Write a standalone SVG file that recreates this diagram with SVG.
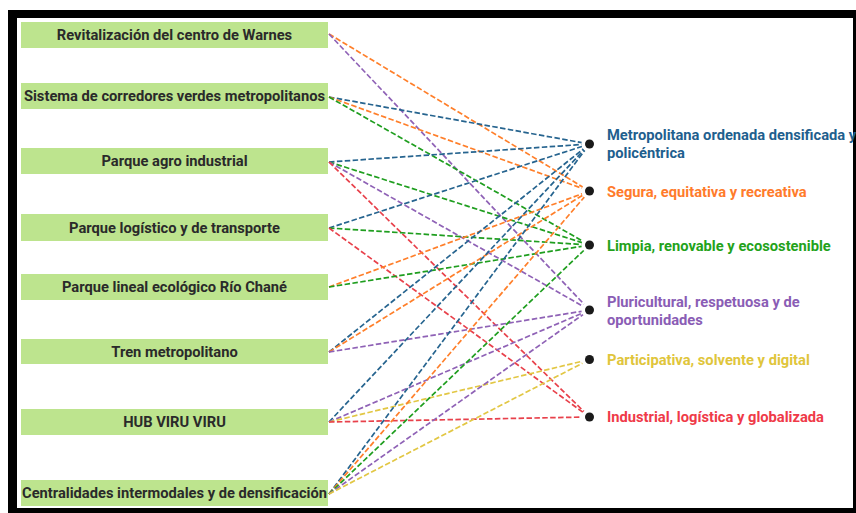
<svg xmlns="http://www.w3.org/2000/svg" width="856" height="513" viewBox="0 0 856 513">
<style>
.box{fill:#bde48e}
.lt{font-family:Roboto,"Liberation Sans",sans-serif;font-weight:bold;font-size:14.7px;fill:#2a2a2a;text-anchor:middle}
.rt{font-family:Roboto,"Liberation Sans",sans-serif;font-weight:bold;font-size:14.7px}
.e{fill:none;stroke-width:1.7;stroke-dasharray:5.5 2.4}
.cM{stroke:#26648f}.cS{stroke:#ff7f2a}.cL{stroke:#1f9e1f}.cP{stroke:#8f62b6}.cY{stroke:#e2c744}.cI{stroke:#e8414b}
.dot{fill:#1a1a1a}
</style>
<rect x="8" y="10" width="848" height="503" fill="#000"/>
<rect x="17" y="18" width="836" height="490" fill="#fff"/>
<g id="connectors">
<line class="e cS" x1="329" y1="34" x2="582.6" y2="186.9"/>
<line class="e cP" x1="329" y1="34" x2="584.0" y2="304.2"/>
<line class="e cM" x1="329" y1="97" x2="581.6" y2="142.6"/>
<line class="e cS" x1="329" y1="97" x2="582.0" y2="188.3"/>
<line class="e cL" x1="329" y1="97" x2="582.5" y2="241.0"/>
<line class="e cM" x1="329" y1="162" x2="581.5" y2="144.5"/>
<line class="e cL" x1="329" y1="162" x2="581.9" y2="242.6"/>
<line class="e cP" x1="329" y1="162" x2="582.5" y2="306.0"/>
<line class="e cI" x1="329" y1="162" x2="583.8" y2="411.4"/>
<line class="e cM" x1="329" y1="228" x2="581.9" y2="146.5"/>
<line class="e cL" x1="329" y1="228" x2="581.5" y2="244.5"/>
<line class="e cI" x1="329" y1="228" x2="583.0" y2="412.3"/>
<line class="e cS" x1="329" y1="287" x2="582.0" y2="193.8"/>
<line class="e cL" x1="329" y1="287" x2="581.6" y2="246.3"/>
<line class="e cM" x1="329" y1="352" x2="583.3" y2="149.0"/>
<line class="e cS" x1="329" y1="352" x2="582.7" y2="195.2"/>
<line class="e cP" x1="329" y1="352" x2="581.6" y2="311.3"/>
<line class="e cM" x1="329" y1="422" x2="584.0" y2="149.8"/>
<line class="e cP" x1="329" y1="422" x2="582.1" y2="313.2"/>
<line class="e cY" x1="329" y1="422" x2="581.7" y2="361.4"/>
<line class="e cI" x1="329" y1="422" x2="581.5" y2="417.1"/>
<line class="e cM" x1="329" y1="494" x2="584.7" y2="150.4"/>
<line class="e cS" x1="329" y1="494" x2="584.3" y2="197.1"/>
<line class="e cL" x1="329" y1="494" x2="583.7" y2="250.5"/>
<line class="e cP" x1="329" y1="494" x2="583.0" y2="314.6"/>
<line class="e cY" x1="329" y1="494" x2="582.4" y2="363.2"/>
</g>
<g id="n1"><rect class="box" x="21" y="22" width="307" height="26"/><text class="lt" x="174.5" y="40.3">Revitalización del centro de Warnes</text></g>
<g id="n2"><rect class="box" x="21" y="83" width="307" height="26"/><text class="lt" x="174.5" y="101.3">Sistema de corredores verdes metropolitanos</text></g>
<g id="n3"><rect class="box" x="21" y="148" width="307" height="26"/><text class="lt" x="174.5" y="166.3">Parque agro industrial</text></g>
<g id="n4"><rect class="box" x="21" y="214" width="307" height="27"/><text class="lt" x="174.5" y="232.8">Parque logístico y de transporte</text></g>
<g id="n5"><rect class="box" x="21" y="274" width="307" height="26"/><text class="lt" x="174.5" y="292.3">Parque lineal ecológico Río Chané</text></g>
<g id="n6"><rect class="box" x="21" y="339" width="307" height="25"/><text class="lt" x="174.5" y="356.8">Tren metropolitano</text></g>
<g id="n7"><rect class="box" x="21" y="409" width="307" height="26"/><text class="lt" x="174.5" y="427.3">HUB VIRU VIRU</text></g>
<g id="n8"><rect class="box" x="21" y="480" width="307" height="26"/><text class="lt" x="174.5" y="498.3">Centralidades intermodales y de densificación</text></g>
<g id="t1"><circle class="dot" cx="589.5" cy="144" r="4.5"/><text class="rt" fill="#1f5f8e"><tspan x="607" y="140.3">Metropolitana ordenada densificada y</tspan><tspan x="607" y="158.3">policéntrica</tspan></text></g>
<g id="t2"><circle class="dot" cx="589.5" cy="191" r="4.5"/><text class="rt" x="607" y="196.5" fill="#ff7b2b">Segura, equitativa y recreativa</text></g>
<g id="t3"><circle class="dot" cx="589.5" cy="245" r="4.5"/><text class="rt" x="607" y="250.5" fill="#23a21a">Limpia, renovable y ecosostenible</text></g>
<g id="t4"><circle class="dot" cx="589.5" cy="310" r="4.5"/><text class="rt" fill="#8a5db5"><tspan x="607" y="306.8">Pluricultural, respetuosa y de</tspan><tspan x="607" y="325.3">oportunidades</tspan></text></g>
<g id="t5"><circle class="dot" cx="589.5" cy="359.5" r="4.5"/><text class="rt" x="607" y="364.5" fill="#e0c53b">Participativa, solvente y digital</text></g>
<g id="t6"><circle class="dot" cx="589.5" cy="417" r="4.5"/><text class="rt" x="607" y="422.3" fill="#ef3a48">Industrial, logística y globalizada</text></g>
</svg>
